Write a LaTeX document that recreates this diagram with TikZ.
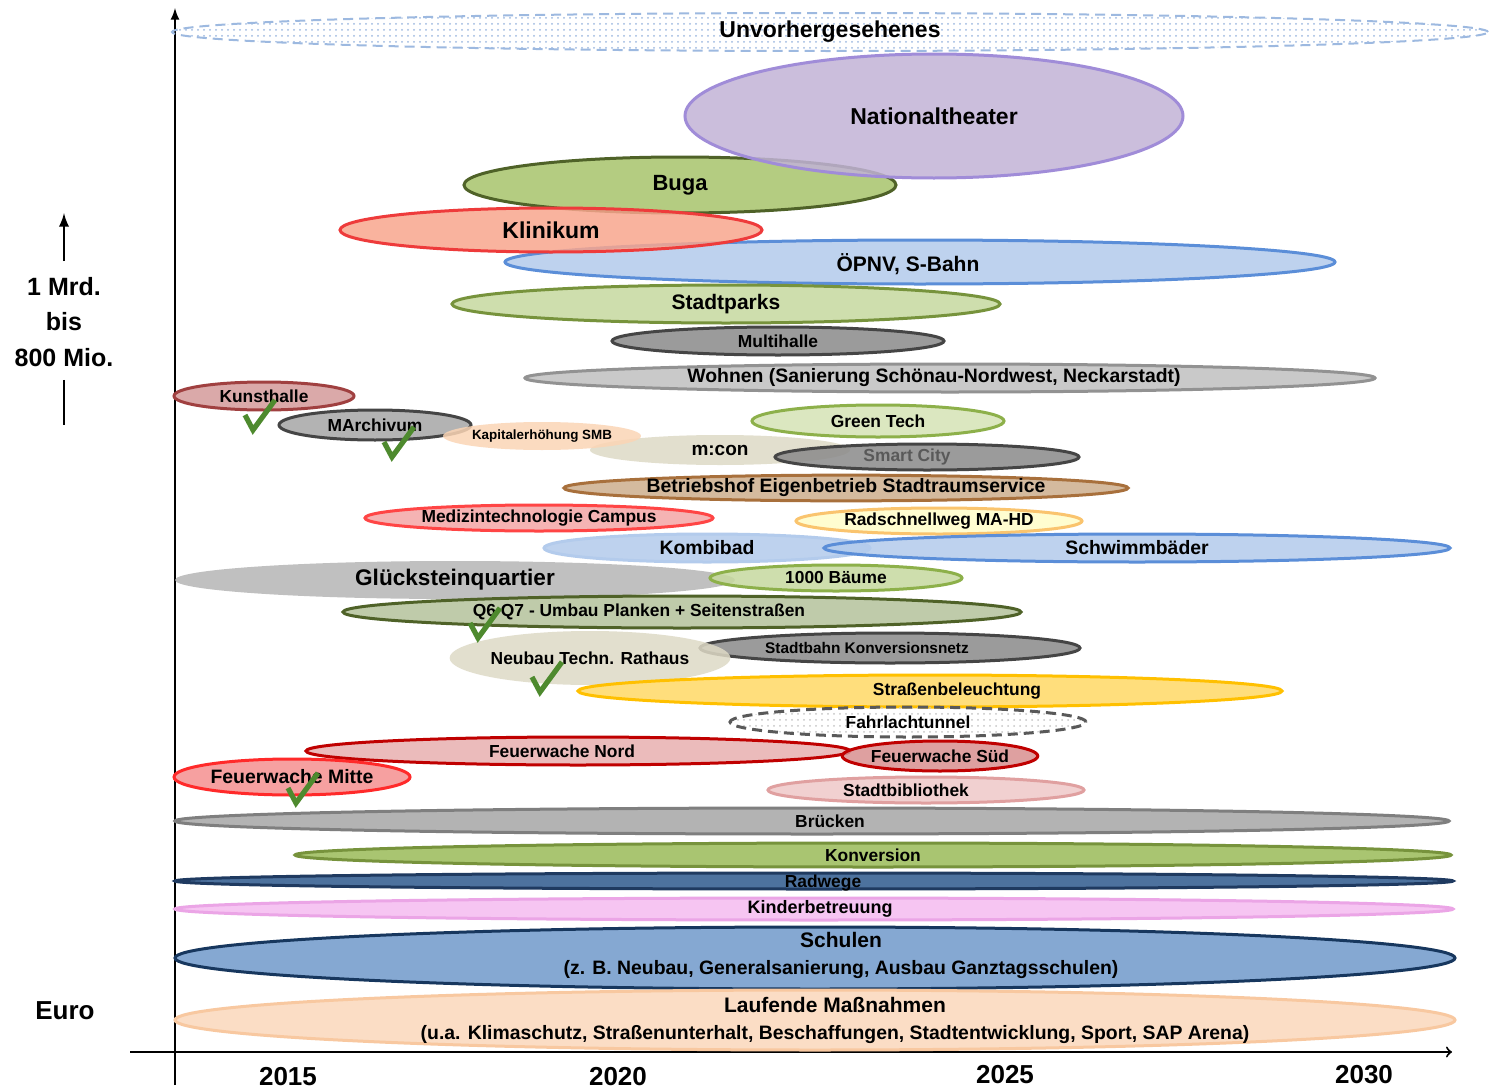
\documentclass[tikz,border=0pt]{standalone}
\usepackage{fontspec}
\setmainfont{Liberation Sans}
\usepackage{xcolor}
\usetikzlibrary{arrows}
\usetikzlibrary{shapes.geometric, patterns}

\definecolor{unvorline}{HTML}{9DB9E0}
\definecolor{natfill}{HTML}{C2B3D6}
\definecolor{natline}{HTML}{A08CD8}
\definecolor{bugafill}{HTML}{A7C46C}
\definecolor{darkgreen}{HTML}{4F6228}
\definecolor{klinfill}{HTML}{F9A68E}
\definecolor{klinline}{HTML}{EE3B3B}
\definecolor{bluefill}{HTML}{B3CBEC}
\definecolor{blueline}{HTML}{5B8ED8}
\definecolor{lightgreen}{HTML}{C6D99F}
\definecolor{midgreen}{HTML}{77933C}
\definecolor{darkgray}{HTML}{8A8A8A}
\definecolor{blackgray}{HTML}{454545}
\definecolor{lightgray}{HTML}{C0C0C0}
\definecolor{midgray}{HTML}{929292}
\definecolor{kunstfill}{HTML}{D49A9A}
\definecolor{kunstline}{HTML}{A04040}
\definecolor{peach}{HTML}{FBD5B5}
\definecolor{beige}{HTML}{DEDAC6}
\definecolor{paleGreen}{HTML}{D5E3B5}
\definecolor{leafgreen}{HTML}{8DB04A}
\definecolor{tan}{HTML}{CDAE8E}
\definecolor{brown}{HTML}{A8703C}
\definecolor{pinkfill}{HTML}{F4A6A6}
\definecolor{brightred}{HTML}{FF4545}
\definecolor{paleyellow}{HTML}{FFFDC8}
\definecolor{orangeline}{HTML}{FAC46E}
\definecolor{gluecksgray}{HTML}{B5B5B5}
\definecolor{sage}{HTML}{B4C29C}
\definecolor{gold}{HTML}{FFD966}
\definecolor{goldline}{HTML}{FFC000}
\definecolor{tunnelgray}{HTML}{595959}
\definecolor{rosefill}{HTML}{E8B0B0}
\definecolor{darkred}{HTML}{C00000}
\definecolor{rosedark}{HTML}{D99090}
\definecolor{salmon}{HTML}{F59090}
\definecolor{firered}{HTML}{FF2A2A}
\definecolor{palerose}{HTML}{EFC8C8}
\definecolor{roseline}{HTML}{E0A0A0}
\definecolor{brueckfill}{HTML}{A6A6A6}
\definecolor{brueckline}{HTML}{7F7F7F}
\definecolor{konvfill}{HTML}{9BBB59}
\definecolor{navyfill}{HTML}{2F5A8E}
\definecolor{navyline}{HTML}{1F3A60}
\definecolor{lilac}{HTML}{F5BCF0}
\definecolor{lilacline}{HTML}{EBA5E6}
\definecolor{schulfill}{HTML}{7099CB}
\definecolor{schulline}{HTML}{17375E}
\definecolor{laufline}{HTML}{F8C8A0}
\definecolor{laufFill}{HTML}{FBD8BC}
\definecolor{checkgreen}{HTML}{4E8A2E}

\begin{document}
\begin{tikzpicture}[x=0.5pt, y=-0.5pt,
    lab/.style={font=\bfseries\fontsize{#1}{13.5}\selectfont},
    lab/.default=8.7,
    proj/.style={ellipse, line width=1.5pt, inner sep=0pt, fill opacity=0.85, text opacity=1, lab},
    dotted area/.style={ellipse, inner sep=0pt, dash pattern=on 5pt off 3pt, lab},
    shifted/.style={lab=#1, fill opacity=1, text opacity=1},
    shifted/.default=8.7,
    donemark/.style={draw=checkgreen, line width=2.6pt, line join=miter},
    yearlabel/.style={lab=13}]
  \useasboundingbox (0,0) rectangle (1490,1092);
  \fill[white] (0,0) rectangle (1490,1092);

  % axes
  \coordinate (ybottom) at (175,1085);
  \coordinate (ytop) at (175,8);
  \coordinate (xleft) at (130,1052);
  \coordinate (xright) at (1452,1052);
  \draw[-latex, line width=1pt] (ybottom) -- (ytop);
  \draw[->, line width=1pt] (xleft) -- (xright);

  \node[yearlabel] (y2015) at (288,1077) {2015};
  \node[yearlabel] (y2020) at (618,1077) {2020};
  \node[yearlabel] (y2025) at (1005,1075) {2025};
  \node[yearlabel] (y2030) at (1364,1075) {2030};

  \node[lab=12.5, align=center] (range) at (64,322) {1 Mrd.\\[4.3pt]bis\\[4.3pt]800 Mio.};
  \draw[-latex, line width=1.3pt] ([yshift=4.5pt]range.north) -- ++(0,-48);
  \draw[line width=1.3pt] ([yshift=-3pt]range.south) -- ++(0,45);
  \node[lab=13] (euro) at (65,1011) {Euro};

  % projects
  \node[dotted area, draw=unvorline, line width=1pt, pattern=dots, pattern color=unvorline,
        minimum width=658pt, minimum height=19pt, lab=11.5] (unvor) at (830,32) {Unvorhergesehenes};
  \node[proj, draw=darkgreen, fill=bugafill, minimum width=216pt, minimum height=28pt, lab=11] (buga) at (680,185) {Buga};
  \node[proj, draw=natline, fill=natfill, minimum width=249pt, minimum height=62pt, lab=11.5] (natth) at (934,116) {Nationaltheater};
  \node[proj, draw=blueline, fill=bluefill, minimum width=415pt, minimum height=22pt,
        label={[shifted=10.5, xshift=-6pt, yshift=-1pt]center:{ÖPNV, S-Bahn}}] (oepnv) at (920,262) {};
  \node[proj, draw=klinline, fill=klinfill, minimum width=211pt, minimum height=22pt, lab=11.5] (klinik) at (551,230) {Klinikum};
  \node[proj, draw=midgreen, fill=lightgreen, minimum width=274pt, minimum height=19pt, lab=10.5] (parks) at (726,304) {Stadtparks};
  \node[proj, draw=blackgray, fill=darkgray, minimum width=166pt, minimum height=14pt] (multi) at (778,341) {Multihalle};
  \node[proj, draw=midgray, fill=lightgray, minimum width=425pt, minimum height=14pt,
        label={[shifted=9.7, xshift=-8pt]center:{Wohnen (Sanierung Schönau-Nordwest, Neckarstadt)}}] (wohnen) at (950,378) {};
  \node[proj, draw=kunstline, fill=kunstfill, minimum width=90pt, minimum height=14pt] (kunst) at (264,396) {Kunsthalle};
  \node[proj, draw=blackgray, fill=brueckfill, minimum width=96pt, minimum height=15pt] (march) at (375,425) {MArchivum};
  \node[proj, draw=none, fill=beige, minimum width=130pt, minimum height=15pt, lab=9.5] (mcon) at (720,450) {m:con};
  \node[proj, draw=none, fill=peach, minimum width=70pt, minimum height=14pt, lab=6.7] (kapital) at (542,436) {Kapitalerhöhung SMB};
  \node[proj, draw=leafgreen, fill=paleGreen, minimum width=126pt, minimum height=16pt] (greentech) at (878,421) {Green Tech};
  \node[proj, draw=blackgray, fill=darkgray, minimum width=152pt, minimum height=13pt,
        label={[shifted, text=tunnelgray, xshift=-10pt]center:{Smart City}}] (smart) at (927,457) {};
  \node[proj, draw=brown, fill=tan, minimum width=278pt, minimum height=12pt, lab=9.7] (betrieb) at (846,488) {Betriebshof Eigenbetrieb Stadtraumservice};
  \node[proj, draw=brightred, fill=pinkfill, minimum width=174pt, minimum height=13pt] (medizin) at (539,518) {Medizintechnologie Campus};
  \node[proj, draw=orangeline, fill=paleyellow, minimum width=143pt, minimum height=13pt] (radschnell) at (939,521) {Radschnellweg MA-HD};
  \node[proj, draw=bluefill, fill=bluefill, minimum width=163pt, minimum height=14pt, lab=9.7] (kombi) at (707,548) {Kombibad};
  \node[proj, draw=blueline, fill=bluefill, minimum width=313pt, minimum height=14pt, lab=9.7] (schwimm) at (1137,548) {Schwimmbäder};
  \node[proj, draw=none, fill=gluecksgray, minimum width=280pt, minimum height=19pt, lab=11.3] (glueck) at (455,580) {Glücksteinquartier};
  \node[proj, draw=leafgreen, fill=lightgreen, minimum width=126pt, minimum height=13pt] (baeume) at (836,578) {1000 Bäume};
  \node[proj, draw=darkgreen, fill=sage, minimum width=339pt, minimum height=16pt,
        label={[shifted, xshift=-21.5pt]center:{Q6 Q7 - Umbau Planken + Seitenstraßen}}] (qsechs) at (682,612) {};
  \node[proj, draw=blackgray, fill=darkgray, minimum width=190pt, minimum height=15pt,
        label={[shifted=7.7, xshift=-11.5pt]center:{Stadtbahn Konversionsnetz}}] (stadtbahn) at (890,648) {};
  \node[proj, draw=none, fill=beige, minimum width=135pt, minimum height=27pt] (neubau) at (590,658) {Neubau Techn. Rathaus};
  \node[proj, draw=goldline, fill=gold, minimum width=352pt, minimum height=16pt,
        label={[shifted, xshift=13.5pt]center:{Straßenbeleuchtung}}] (licht) at (930,691) {};
  \node[dotted area, draw=tunnelgray, line width=1.5pt, pattern=dots, pattern color=gray!45,
        minimum width=178pt, minimum height=15pt] (fahrlach) at (908,722) {Fahrlachtunnel};
  \node[proj, draw=darkred, fill=rosefill, minimum width=272pt, minimum height=14pt,
        label={[shifted, xshift=-8pt]center:{Feuerwache Nord}}] (fwnord) at (578,751) {};
  \node[proj, draw=darkred, fill=rosedark, minimum width=92pt, minimum height=15pt] (fwsued) at (940,756) {Feuerwache Süd};
  \node[proj, draw=firered, fill=salmon, minimum width=118pt, minimum height=18pt, lab=9.7] (fwmitte) at (292,777) {Feuerwache Mitte};
  \node[proj, draw=roseline, fill=palerose, minimum width=158pt, minimum height=13pt,
        label={[shifted, xshift=-10pt]center:{Stadtbibliothek}}] (biblio) at (926,790) {};
  \node[proj, draw=brueckline, fill=brueckfill, minimum width=637pt, minimum height=13pt,
        label={[shifted, xshift=9pt]center:{Brücken}}] (bruecken) at (812,821) {};
  \node[proj, draw=midgreen, fill=konvfill, minimum width=578pt, minimum height=12pt] (konv) at (873,855) {Konversion};
  \node[proj, draw=navyline, fill=navyfill, minimum width=639pt, minimum height=8pt,
        label={[shifted, xshift=4.5pt, yshift=-1pt]center:{Radwege}}] (radwege) at (814,881) {};
  \node[proj, draw=lilacline, fill=lilac, minimum width=639pt, minimum height=11pt,
        label={[shifted=9, xshift=3pt]center:{Kinderbetreuung}}] (kinder) at (814,909) {};
  \node[proj, draw=schulline, fill=schulfill, minimum width=640pt, minimum height=31pt,
        label={[shifted=9.7, align=center, xshift=13pt, yshift=1.5pt]center:{{\fontsize{10.5}{13.5}\selectfont Schulen}\\(z. B. Neubau, Generalsanierung, Ausbau Ganztagsschulen)}}] (schulen) at (815,958) {};
  \node[proj, draw=laufline, fill=laufFill, minimum width=640pt, minimum height=30pt,
        label={[shifted=9.7, align=center, xshift=10pt]center:{{\fontsize{10.5}{13.5}\selectfont Laufende Maßnahmen}\\(u.a. Klimaschutz, Straßenunterhalt, Beschaffungen, Stadtentwicklung, Sport, SAP Arena)}}] (laufend) at (815,1020) {};

  % finished projects
  \foreach \bx/\by in {253/430, 392/457, 478/638, 540/692, 296/803}
    \draw[donemark] (\bx-8,\by-15) -- (\bx,\by) -- (\bx+22,\by-30);
\end{tikzpicture}
\end{document}
